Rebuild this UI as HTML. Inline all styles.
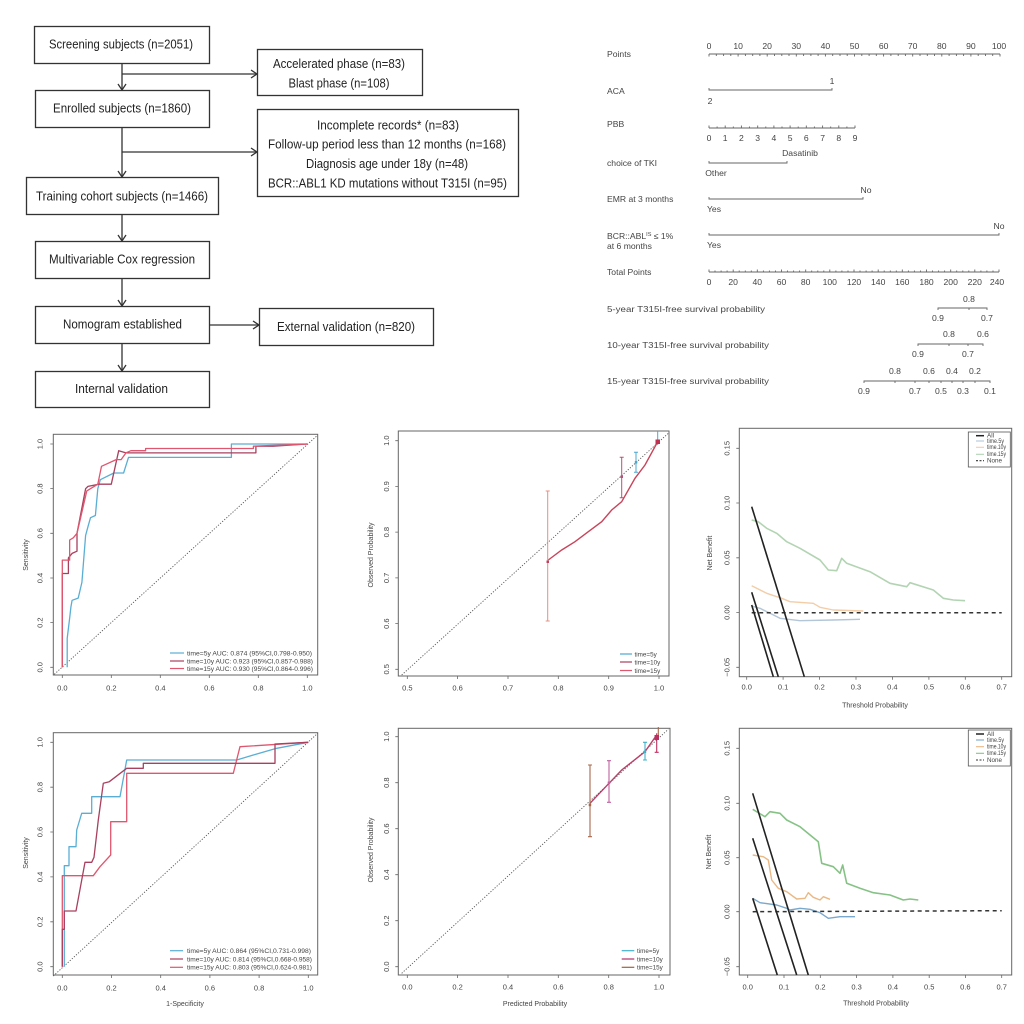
<!DOCTYPE html>
<html><head><meta charset="utf-8"><style>
html,body{margin:0;padding:0;background:#fff;}
svg{display:block;}
text{font-family:"Liberation Sans",Arial,sans-serif;}
.fc{font-size:12.5px;fill:#222;}
.nm{font-size:8.6px;fill:#444;}
.tk{font-size:7.5px;fill:#444;}
.lg{font-size:6.3px;fill:#444;}
.ax{font-size:7px;fill:#444;}
</style></head><body>
<svg width="1024" height="1024" viewBox="0 0 1024 1024" xmlns="http://www.w3.org/2000/svg">
<rect width="1024" height="1024" fill="#fff"/>

<!-- ================= FLOWCHART ================= -->
<g stroke="#333" stroke-width="1.3" fill="none">
<rect x="34.5" y="26.5" width="175" height="37"/>
<rect x="257.5" y="49.5" width="165" height="46"/>
<rect x="35.5" y="90.5" width="174" height="37"/>
<rect x="257.5" y="109.5" width="261" height="87"/>
<rect x="26.5" y="177.5" width="192" height="37"/>
<rect x="35.5" y="241.5" width="174" height="37"/>
<rect x="35.5" y="306.5" width="174" height="37"/>
<rect x="259.5" y="308.5" width="174" height="37"/>
<rect x="35.5" y="371.5" width="174" height="36"/>
<line x1="122" y1="64" x2="122" y2="90"/>
<line x1="122" y1="74" x2="257" y2="74"/>
<line x1="122" y1="128" x2="122" y2="177"/>
<line x1="122" y1="152" x2="257" y2="152"/>
<line x1="122" y1="215" x2="122" y2="241"/>
<line x1="122" y1="279" x2="122" y2="306"/>
<line x1="209" y1="325" x2="259" y2="325"/>
<line x1="122" y1="344" x2="122" y2="371"/>
<polyline points="118,84 122,90 126,84"/>
<polyline points="251,70 257,74 251,78"/>
<polyline points="118,171 122,177 126,171"/>
<polyline points="251,148 257,152 251,156"/>
<polyline points="118,235 122,241 126,235"/>
<polyline points="118,300 122,306 126,300"/>
<polyline points="253,321 259,325 253,329"/>
<polyline points="118,365 122,371 126,365"/>
</g>
<g class="fc" text-anchor="middle">
<text x="121" y="48.5" textLength="144" lengthAdjust="spacingAndGlyphs">Screening subjects (n=2051)</text>
<text x="339" y="68" textLength="132" lengthAdjust="spacingAndGlyphs">Accelerated phase (n=83)</text>
<text x="339" y="87.5" textLength="101" lengthAdjust="spacingAndGlyphs">Blast phase (n=108)</text>
<text x="122" y="112.5" textLength="138" lengthAdjust="spacingAndGlyphs">Enrolled subjects (n=1860)</text>
<text x="388" y="129.5" textLength="142" lengthAdjust="spacingAndGlyphs">Incomplete records* (n=83)</text>
<text x="387" y="148.5" textLength="238" lengthAdjust="spacingAndGlyphs">Follow-up period less than 12 months (n=168)</text>
<text x="387" y="168" textLength="162" lengthAdjust="spacingAndGlyphs">Diagnosis age under 18y (n=48)</text>
<text x="387.5" y="187.5" textLength="239" lengthAdjust="spacingAndGlyphs">BCR::ABL1 KD mutations without T315I (n=95)</text>
<text x="122" y="200.5" textLength="172" lengthAdjust="spacingAndGlyphs">Training cohort subjects (n=1466)</text>
<text x="122" y="263.5" textLength="146" lengthAdjust="spacingAndGlyphs">Multivariable Cox regression</text>
<text x="122.5" y="328.5" textLength="119" lengthAdjust="spacingAndGlyphs">Nomogram established</text>
<text x="346" y="331" textLength="138" lengthAdjust="spacingAndGlyphs">External validation (n=820)</text>
<text x="121.5" y="393" textLength="93" lengthAdjust="spacingAndGlyphs">Internal validation</text>
</g>

<!-- ================= NOMOGRAM ================= -->
<g class="nm">
<text x="607" y="57">Points</text>
<text x="607" y="94">ACA</text>
<text x="607" y="127">PBB</text>
<text x="607" y="166">choice of TKI</text>
<text x="607" y="202">EMR at 3 months</text>
<text x="607" y="239">BCR::ABL<tspan font-size="5.5" dy="-3">IS</tspan><tspan dy="3"> ≤ 1%</tspan></text>
<text x="607" y="249">at 6 months</text>
<text x="607" y="275">Total Points</text>
<text x="607" y="312" textLength="158" lengthAdjust="spacingAndGlyphs">5-year T315I-free survival probability</text>
<text x="607" y="348" textLength="162" lengthAdjust="spacingAndGlyphs">10-year T315I-free survival probability</text>
<text x="607" y="384" textLength="162" lengthAdjust="spacingAndGlyphs">15-year T315I-free survival probability</text>
</g>
<g stroke="#666" stroke-width="0.9" fill="none">
<line x1="709" y1="54" x2="1000" y2="54"/>
<path d="M709,54v2.5 M716.3,54v2 M723.6,54v2 M730.8,54v2 M738.1,54v2.5 M745.4,54v2 M752.7,54v2 M759.9,54v2 M767.2,54v2.5 M774.5,54v2 M781.8,54v2 M789,54v2 M796.3,54v2.5 M803.6,54v2 M810.9,54v2 M818.1,54v2 M825.4,54v2.5 M832.7,54v2 M840,54v2 M847.2,54v2 M854.5,54v2.5 M861.8,54v2 M869.1,54v2 M876.3,54v2 M883.6,54v2.5 M890.9,54v2 M898.2,54v2 M905.4,54v2 M912.7,54v2.5 M920,54v2 M927.3,54v2 M934.5,54v2 M941.8,54v2.5 M949.1,54v2 M956.4,54v2 M963.6,54v2 M970.9,54v2.5 M978.2,54v2 M985.5,54v2 M992.7,54v2 M1000,54v2.5"/>
<path d="M709,88v2h123v-2"/>
<line x1="709" y1="128" x2="855" y2="128"/>
<path d="M709,128v-2.5 M725.2,128v-2.5 M741.4,128v-2.5 M757.7,128v-2.5 M773.9,128v-2.5 M790.1,128v-2.5 M806.3,128v-2.5 M822.6,128v-2.5 M838.8,128v-2.5 M855,128v-2.5 M717.1,128v-1.5 M733.3,128v-1.5 M749.5,128v-1.5 M765.8,128v-1.5 M782,128v-1.5 M798.2,128v-1.5 M814.4,128v-1.5 M830.7,128v-1.5 M846.9,128v-1.5"/>
<path d="M709,161v2h78v-2"/>
<path d="M709,197v2h154v-2"/>
<path d="M709,233v2h290v-2"/>
<line x1="709" y1="272" x2="999" y2="272"/>
<path d="M709,272v-2.5 M715,272v-1.5 M721.1,272v-1.5 M727.1,272v-1.5 M733.2,272v-2.5 M739.2,272v-1.5 M745.3,272v-1.5 M751.3,272v-1.5 M757.3,272v-2.5 M763.4,272v-1.5 M769.4,272v-1.5 M775.5,272v-1.5 M781.5,272v-2.5 M787.5,272v-1.5 M793.6,272v-1.5 M799.6,272v-1.5 M805.7,272v-2.5 M811.7,272v-1.5 M817.8,272v-1.5 M823.8,272v-1.5 M829.8,272v-2.5 M835.9,272v-1.5 M841.9,272v-1.5 M848,272v-1.5 M854,272v-2.5 M860,272v-1.5 M866.1,272v-1.5 M872.1,272v-1.5 M878.2,272v-2.5 M884.2,272v-1.5 M890.3,272v-1.5 M896.3,272v-1.5 M902.3,272v-2.5 M908.4,272v-1.5 M914.4,272v-1.5 M920.5,272v-1.5 M926.5,272v-2.5 M932.5,272v-1.5 M938.6,272v-1.5 M944.6,272v-1.5 M950.7,272v-2.5 M956.7,272v-1.5 M962.8,272v-1.5 M968.8,272v-1.5 M974.8,272v-2.5 M980.9,272v-1.5 M986.9,272v-1.5 M993,272v-1.5 M999,272v-2.5"/>
<path d="M938,310v-2h49v2 M969,308v2"/>
<path d="M918,346v-2h65v2 M949,344v2 M968,344v2"/>
<path d="M864,383v-2h126v2 M895,381v2 M915,381v2 M929,381v2 M941,381v2 M952,381v2 M963,381v2 M975,381v2"/>
</g>
<g class="nm" text-anchor="middle" font-size="8.2">
<text x="709" y="49">0</text><text x="738.1" y="49">10</text><text x="767.2" y="49">20</text><text x="796.3" y="49">30</text><text x="825.4" y="49">40</text><text x="854.5" y="49">50</text><text x="883.6" y="49">60</text><text x="912.7" y="49">70</text><text x="941.8" y="49">80</text><text x="970.9" y="49">90</text><text x="999" y="49">100</text>
<text x="832" y="84">1</text><text x="710" y="104">2</text>
<text x="709" y="141">0</text><text x="725.2" y="141">1</text><text x="741.4" y="141">2</text><text x="757.7" y="141">3</text><text x="773.9" y="141">4</text><text x="790.1" y="141">5</text><text x="806.3" y="141">6</text><text x="822.6" y="141">7</text><text x="838.8" y="141">8</text><text x="855" y="141">9</text>
<text x="800" y="156">Dasatinib</text><text x="716" y="176">Other</text>
<text x="866" y="193">No</text><text x="714" y="212">Yes</text>
<text x="999" y="229">No</text><text x="714" y="248">Yes</text>
<text x="709" y="285">0</text><text x="733.2" y="285">20</text><text x="757.3" y="285">40</text><text x="781.5" y="285">60</text><text x="805.7" y="285">80</text><text x="829.8" y="285">100</text><text x="854" y="285">120</text><text x="878.2" y="285">140</text><text x="902.3" y="285">160</text><text x="926.5" y="285">180</text><text x="950.7" y="285">200</text><text x="974.8" y="285">220</text><text x="997" y="285">240</text>
<text x="969" y="302">0.8</text><text x="938" y="321">0.9</text><text x="987" y="321">0.7</text>
<text x="949" y="337">0.8</text><text x="983" y="337">0.6</text><text x="918" y="357">0.9</text><text x="968" y="357">0.7</text>
<text x="895" y="374">0.8</text><text x="929" y="374">0.6</text><text x="952" y="374">0.4</text><text x="975" y="374">0.2</text>
<text x="864" y="394">0.9</text><text x="915" y="394">0.7</text><text x="941" y="394">0.5</text><text x="963" y="394">0.3</text><text x="990" y="394">0.1</text>
</g>

<!-- ================= ROC 1 ================= -->
<g>
<rect x="53.3" y="434.3" width="264.4" height="240.7" fill="none" stroke="#666" stroke-width="1"/>
<path d="M62.3,675v3 M111.3,675v3 M160.3,675v3 M209.3,675v3 M258.3,675v3 M307.3,675v3 M53.3,667.3h-3 M53.3,622.6h-3 M53.3,578h-3 M53.3,533.3h-3 M53.3,488.6h-3 M53.3,444h-3" stroke="#666" stroke-width="0.8"/>
<g class="tk" text-anchor="middle">
<text x="62.3" y="690.5">0.0</text><text x="111.3" y="690.5">0.2</text><text x="160.3" y="690.5">0.4</text><text x="209.3" y="690.5">0.6</text><text x="258.3" y="690.5">0.8</text><text x="307.3" y="690.5">1.0</text>
<text transform="translate(42.5,667.3) rotate(-90)">0.0</text><text transform="translate(42.5,622.6) rotate(-90)">0.2</text><text transform="translate(42.5,578) rotate(-90)">0.4</text><text transform="translate(42.5,533.3) rotate(-90)">0.6</text><text transform="translate(42.5,488.6) rotate(-90)">0.8</text><text transform="translate(42.5,444) rotate(-90)">1.0</text>
<text class="ax" transform="translate(28,555) rotate(-90)">Sensitivity</text>
</g>
<line x1="54.3" y1="674.3" x2="316.7" y2="436" stroke="#555" stroke-width="0.9" stroke-dasharray="1.2,1.6"/>
<g fill="none" stroke-width="1.3" stroke-linejoin="round">
<polyline stroke="#5aaed4" points="67.2,667.3 67.2,638.3 69.65,618.2 70.9,607 72.1,600.3 78.2,598.1 81.9,582.4 85.6,535.5 88,526.6 90.5,517.7 95.4,515.5 97.8,488.7 100.3,479.7 113.8,473 123.6,473 128.5,457.4 231.4,457.4 231.4,444 307.3,444"/>
<polyline stroke="#a8405e" points="62.3,667.3 62.3,573.5 68.4,573.5 68.4,557.9 72.1,553.4 77,551.2 77,533.3 85.6,488.7 88,486.4 99.1,484.2 111.3,484.2 118.7,450.7 126,452.9 255.9,452.9 255.9,446.2 273,446.2 307.3,444"/>
<polyline stroke="#e0566e" points="62.3,667.3 62.3,560.1 69.65,560.1 69.65,540 73.3,537.8 77,533.3 86.8,490.9 97.8,484.2 101.5,466.3 116.2,459.6 121.1,459.6 126,452.9 130.9,450.7 145.6,450.7 145.6,448.5 253.4,448.5 253.4,446.2 307.3,444"/>
</g>
<line x1="170" y1="653" x2="184" y2="653" stroke="#5aaed4" stroke-width="1.2"/>
<line x1="170" y1="661" x2="184" y2="661" stroke="#a8405e" stroke-width="1.2"/>
<line x1="170" y1="668.5" x2="184" y2="668.5" stroke="#e0566e" stroke-width="1.2"/>
<g class="lg">
<text x="187" y="655.3" textLength="125" lengthAdjust="spacingAndGlyphs">time=5y AUC: 0.874 (95%CI,0.798-0.950)</text>
<text x="187" y="663.3" textLength="126" lengthAdjust="spacingAndGlyphs">time=10y AUC: 0.923 (95%CI,0.857-0.988)</text>
<text x="187" y="670.8" textLength="126" lengthAdjust="spacingAndGlyphs">time=15y AUC: 0.930 (95%CI,0.864-0.996)</text>
</g>
</g>

<!-- ================= CAL 1 ================= -->
<g>
<rect x="398.3" y="431" width="270.7" height="245" fill="none" stroke="#666" stroke-width="1"/>
<path d="M407.3,676v3 M457.6,676v3 M508,676v3 M558.3,676v3 M608.7,676v3 M659,676v3 M398.3,669.3h-3 M398.3,623.6h-3 M398.3,577.9h-3 M398.3,532.1h-3 M398.3,486.4h-3 M398.3,440.7h-3" stroke="#666" stroke-width="0.8"/>
<g class="tk" text-anchor="middle">
<text x="407.3" y="690.5">0.5</text><text x="457.6" y="690.5">0.6</text><text x="508" y="690.5">0.7</text><text x="558.3" y="690.5">0.8</text><text x="608.7" y="690.5">0.9</text><text x="659" y="690.5">1.0</text>
<text transform="translate(389,669.3) rotate(-90)">0.5</text><text transform="translate(389,623.6) rotate(-90)">0.6</text><text transform="translate(389,577.9) rotate(-90)">0.7</text><text transform="translate(389,532.1) rotate(-90)">0.8</text><text transform="translate(389,486.4) rotate(-90)">0.9</text><text transform="translate(389,440.7) rotate(-90)">1.0</text>
<text class="ax" transform="translate(373,555) rotate(-90)">Observed Probability</text>
</g>
<line x1="401.7" y1="675" x2="668.3" y2="433.3" stroke="#555" stroke-width="0.9" stroke-dasharray="1.2,1.6"/>
<polyline fill="none" stroke="#c8445a" stroke-width="1.4" points="548.3,560 561.7,550 575,541.7 588.3,531.7 601.7,521.7 611.7,510 621.7,501.7 635,478.3 645,465 657.7,441.7"/>
<g fill="none" stroke-width="1">
<path d="M547.7,491v130 M545.7,491h4 M545.7,621h4" stroke="#e89080"/>
<path d="M621.7,457.3v40.4 M619.7,457.3h4 M619.7,497.7h4" stroke="#b8507a"/>
<path d="M636,452.3v20 M634,452.3h4 M634,472.3h4" stroke="#4aa8d0"/>
<path d="M657.7,431v14" stroke="#4aa8d0"/>
</g>
<rect x="546.5" y="560.5" width="2.5" height="2.5" fill="#c04060"/>
<rect x="620.5" y="475.5" width="2.5" height="2.5" fill="#b8507a"/>
<rect x="634.8" y="461" width="2.5" height="2.5" fill="#4aa8d0"/>
<rect x="655.5" y="439.5" width="4.5" height="4.5" fill="#c03050"/>
<line x1="620" y1="654" x2="632" y2="654" stroke="#4aa8d0" stroke-width="1.2"/>
<line x1="620" y1="662" x2="632" y2="662" stroke="#a8405e" stroke-width="1.2"/>
<line x1="620" y1="670.5" x2="632" y2="670.5" stroke="#e0566e" stroke-width="1.2"/>
<g class="lg"><text x="634.5" y="656.3">time=5y</text><text x="634.5" y="664.3">time=10y</text><text x="634.5" y="672.8">time=15y</text></g>
</g>

<!-- ================= DCA 1 ================= -->
<g>
<rect x="739.3" y="428.3" width="272.4" height="248.4" fill="none" stroke="#666" stroke-width="1"/>
<path d="M746.7,676.7v3 M783.1,676.7v3 M819.6,676.7v3 M856,676.7v3 M892.4,676.7v3 M928.9,676.7v3 M965.3,676.7v3 M1001.7,676.7v3 M739.3,667.3h-3 M739.3,612.6h-3 M739.3,557.8h-3 M739.3,503h-3 M739.3,448.3h-3" stroke="#666" stroke-width="0.8"/>
<g class="tk" text-anchor="middle">
<text x="746.7" y="689.5">0.0</text><text x="783.1" y="689.5">0.1</text><text x="819.6" y="689.5">0.2</text><text x="856" y="689.5">0.3</text><text x="892.4" y="689.5">0.4</text><text x="928.9" y="689.5">0.5</text><text x="965.3" y="689.5">0.6</text><text x="1001.7" y="689.5">0.7</text>
<text transform="translate(729.5,667.3) rotate(-90)">−0.05</text><text transform="translate(729.5,612.6) rotate(-90)">0.00</text><text transform="translate(729.5,557.8) rotate(-90)">0.05</text><text transform="translate(729.5,503) rotate(-90)">0.10</text><text transform="translate(729.5,448.3) rotate(-90)">0.15</text>
<text class="ax" transform="translate(712,553) rotate(-90)">Net Benefit</text>
<text class="ax" x="875" y="707.5">Threshold Probability</text>
</g>
<g fill="none" stroke-linejoin="round">
<polyline stroke="#b2d4b2" stroke-width="1.6" points="751.7,520 758.3,521.7 766.7,528.3 776.7,533.3 786.7,541.7 800,548.3 820,560 828.3,570 836.7,570.7 841.7,558.3 846.7,563.3 870,571.7 890,583.3 906.7,586.7 910,582.7 933.3,590 943.3,598.3 953.3,600 965,600.7"/>
<polyline stroke="#f2cda8" stroke-width="1.4" points="751.7,585.7 766.7,593.3 781.7,598.3 790,601.7 813.3,603.3 820,607.3 833.3,610 863.3,611"/>
<polyline stroke="#b2c6d8" stroke-width="1.4" points="751.7,606 760,608.3 770,613.3 780,618.3 800,620.7 833.3,620 860,619.3"/>
<line x1="751.7" y1="612.7" x2="1001.7" y2="612.7" stroke="#333" stroke-width="1.5" stroke-dasharray="4,3.5"/>
<g stroke="#222" stroke-width="1.6">
<line x1="751.7" y1="506.7" x2="804.3" y2="676.7"/>
<line x1="751.7" y1="592.3" x2="778.3" y2="676.7"/>
<line x1="751.7" y1="605" x2="773.3" y2="676.7"/>
</g>
</g>
<rect x="968.3" y="432" width="42" height="35" fill="#fff" stroke="#555" stroke-width="0.8"/>
<g stroke-width="1.1">
<line x1="976" y1="435.7" x2="984" y2="435.7" stroke="#222" stroke-width="1.5"/>
<line x1="976" y1="441" x2="984" y2="441" stroke="#b2c6d8"/>
<line x1="976" y1="447.3" x2="984" y2="447.3" stroke="#f2cda8"/>
<line x1="976" y1="454.3" x2="984" y2="454.3" stroke="#b2d4b2"/>
<line x1="976" y1="460.7" x2="984" y2="460.7" stroke="#333" stroke-dasharray="2,1.5"/>
</g>
<g class="lg" font-size="4.8"><text x="987" y="437.5">All</text><text x="987" y="443" textLength="17" lengthAdjust="spacingAndGlyphs">time.5y</text><text x="987" y="449.2" textLength="19" lengthAdjust="spacingAndGlyphs">time.10y</text><text x="987" y="456" textLength="19" lengthAdjust="spacingAndGlyphs">time.15y</text><text x="987" y="462.5">None</text></g>
</g>

<!-- ================= ROC 2 ================= -->
<g>
<rect x="53.3" y="732.7" width="264.4" height="242.3" fill="none" stroke="#666" stroke-width="1"/>
<path d="M62.3,975v3 M111.5,975v3 M160.7,975v3 M209.9,975v3 M259.1,975v3 M308.3,975v3 M53.3,966.7h-3 M53.3,921.8h-3 M53.3,876.9h-3 M53.3,832h-3 M53.3,787.2h-3 M53.3,742.3h-3" stroke="#666" stroke-width="0.8"/>
<g class="tk" text-anchor="middle">
<text x="62.3" y="990.5">0.0</text><text x="111.5" y="990.5">0.2</text><text x="160.7" y="990.5">0.4</text><text x="209.9" y="990.5">0.6</text><text x="259.1" y="990.5">0.8</text><text x="308.3" y="990.5">1.0</text>
<text transform="translate(42.5,966.7) rotate(-90)">0.0</text><text transform="translate(42.5,921.8) rotate(-90)">0.2</text><text transform="translate(42.5,876.9) rotate(-90)">0.4</text><text transform="translate(42.5,832) rotate(-90)">0.6</text><text transform="translate(42.5,787.2) rotate(-90)">0.8</text><text transform="translate(42.5,742.3) rotate(-90)">1.0</text>
<text class="ax" transform="translate(28,853) rotate(-90)">Sensitivity</text>
<text class="ax" x="185" y="1006">1-Specificity</text>
</g>
<line x1="53.3" y1="976" x2="317.7" y2="733.3" stroke="#555" stroke-width="0.9" stroke-dasharray="1.2,1.6"/>
<g fill="none" stroke-width="1.3" stroke-linejoin="round">
<polyline stroke="#5aaed4" points="64.3,966.7 64.3,865.7 69,865.7 69,846.7 76,846.7 76.7,830 81.7,813.3 91.7,813.3 91.7,796.7 100,796.7 120,796.7 126.7,760 236.7,760 253.3,755 276.7,748.3 308.3,742.3"/>
<polyline stroke="#e0566e" points="62.3,966.7 62.3,875.7 93.3,875.7 100,866.7 110.7,855 110.7,821.7 126.7,821.7 126.7,773.3 233.3,773.3 240,746.7 308.3,742.3"/>
<polyline stroke="#a8405e" points="62.3,966.7 62.3,929.3 64.3,929.3 64.3,911 76,911 85,862.3 91.7,862.3 94,857.3 98.3,820 103.3,783.3 109.3,781.7 126.7,768.3 143.3,768.3 143.3,763.3 275,763.3 275,744 308.3,742.3"/>
</g>
<line x1="170" y1="950.7" x2="183" y2="950.7" stroke="#5aaed4" stroke-width="1.2"/>
<line x1="170" y1="959" x2="183" y2="959" stroke="#a8405e" stroke-width="1.2"/>
<line x1="170" y1="967.3" x2="183" y2="967.3" stroke="#e0566e" stroke-width="1.2"/>
<g class="lg">
<text x="187" y="953" textLength="124" lengthAdjust="spacingAndGlyphs">time=5y AUC: 0.864 (95%CI,0.731-0.998)</text>
<text x="187" y="961.3" textLength="125" lengthAdjust="spacingAndGlyphs">time=10y AUC: 0.814 (95%CI,0.668-0.958)</text>
<text x="187" y="969.6" textLength="125" lengthAdjust="spacingAndGlyphs">time=15y AUC: 0.803 (95%CI,0.624-0.981)</text>
</g>
</g>

<!-- ================= CAL 2 ================= -->
<g>
<rect x="398.3" y="728.3" width="271.7" height="246.7" fill="none" stroke="#666" stroke-width="1"/>
<path d="M407.3,975v3 M457.6,975v3 M508,975v3 M558.3,975v3 M608.7,975v3 M659,975v3 M398.3,966.7h-3 M398.3,920.7h-3 M398.3,874.7h-3 M398.3,828.7h-3 M398.3,782.7h-3 M398.3,736.7h-3" stroke="#666" stroke-width="0.8"/>
<g class="tk" text-anchor="middle">
<text x="407.3" y="989.5">0.0</text><text x="457.6" y="989.5">0.2</text><text x="508" y="989.5">0.4</text><text x="558.3" y="989.5">0.6</text><text x="608.7" y="989.5">0.8</text><text x="659" y="989.5">1.0</text>
<text transform="translate(389,966.7) rotate(-90)">0.0</text><text transform="translate(389,920.7) rotate(-90)">0.2</text><text transform="translate(389,874.7) rotate(-90)">0.4</text><text transform="translate(389,828.7) rotate(-90)">0.6</text><text transform="translate(389,782.7) rotate(-90)">0.8</text><text transform="translate(389,736.7) rotate(-90)">1.0</text>
<text class="ax" transform="translate(373,850) rotate(-90)">Observed Probability</text>
<text class="ax" x="535" y="1006">Predicted Probability</text>
</g>
<line x1="401.7" y1="973.3" x2="668.3" y2="729.3" stroke="#555" stroke-width="0.9" stroke-dasharray="1.2,1.6"/>
<polyline fill="none" stroke="#b8406a" stroke-width="1.4" points="590,803.3 609,783.3 621.7,770 645,751.7 656.7,735"/>
<g fill="none" stroke-width="1.1">
<path d="M590,765v71.7 M588,765h4 M588,836.7h4" stroke="#a8684a"/>
<path d="M609,760.7v41.6 M607,760.7h4 M607,802.3h4" stroke="#c060a0"/>
<path d="M645,742.3v17.7 M643,742.3h4 M643,760h4" stroke="#40b0c8"/>
<path d="M656.7,733.3v19 M654.7,752.3h4" stroke="#c03060"/>
<path d="M658.3,727v13" stroke="#a8684a"/>
</g>
<rect x="588.7" y="803.7" width="2.5" height="2.5" fill="#a8684a"/>
<rect x="607.7" y="781.5" width="2.5" height="2.5" fill="#c060a0"/>
<rect x="643.7" y="750.5" width="2.5" height="2.5" fill="#40b0c8"/>
<rect x="654.5" y="735" width="4.5" height="5" fill="#b83060"/>
<line x1="621.7" y1="950.7" x2="634.3" y2="950.7" stroke="#40b0c8" stroke-width="1.2"/>
<line x1="621.7" y1="959" x2="634.3" y2="959" stroke="#b0306a" stroke-width="1.2"/>
<line x1="621.7" y1="967.3" x2="634.3" y2="967.3" stroke="#a06040" stroke-width="1.2"/>
<g class="lg"><text x="637" y="953">time=5y</text><text x="637" y="961.3">time=10y</text><text x="637" y="969.6">time=15y</text></g>
</g>

<!-- ================= DCA 2 ================= -->
<g>
<rect x="739.3" y="728.3" width="272.4" height="246.7" fill="none" stroke="#666" stroke-width="1"/>
<path d="M747.7,975v3 M784,975v3 M820.3,975v3 M856.6,975v3 M892.9,975v3 M929.2,975v3 M965.4,975v3 M1001.7,975v3 M739.3,966.7h-3 M739.3,911.7h-3 M739.3,857.7h-3 M739.3,803.3h-3 M739.3,748.3h-3" stroke="#666" stroke-width="0.8"/>
<g class="tk" text-anchor="middle">
<text x="747.7" y="989.5">0.0</text><text x="784" y="989.5">0.1</text><text x="820.3" y="989.5">0.2</text><text x="856.6" y="989.5">0.3</text><text x="892.9" y="989.5">0.4</text><text x="929.2" y="989.5">0.5</text><text x="965.4" y="989.5">0.6</text><text x="1001.7" y="989.5">0.7</text>
<text transform="translate(729.5,966.7) rotate(-90)">−0.05</text><text transform="translate(729.5,911.7) rotate(-90)">0.00</text><text transform="translate(729.5,857.7) rotate(-90)">0.05</text><text transform="translate(729.5,803.3) rotate(-90)">0.10</text><text transform="translate(729.5,748.3) rotate(-90)">0.15</text>
<text class="ax" transform="translate(711,852) rotate(-90)">Net Benefit</text>
<text class="ax" x="876" y="1005.5">Threshold Probability</text>
</g>
<g fill="none" stroke-linejoin="round">
<polyline stroke="#86c286" stroke-width="1.6" points="752.7,809.3 765,816.7 770,811.7 780,813.3 786.7,820 800,826.7 818.3,841.7 821.7,863.3 833.3,866.7 840,873.3 842.7,865 846.7,883.3 860,888.3 873.3,892.7 890,895 903.3,900 910,899 918.3,900"/>
<polyline stroke="#eab884" stroke-width="1.4" points="752.7,855 763.3,856.7 768.3,860 771.7,880 778.3,888.3 786.7,891.7 796.7,899 805,898.3 808.3,892.7 813.3,897.3 820,900 823.3,896.7 830,899.3"/>
<polyline stroke="#7aa8cc" stroke-width="1.4" points="752.7,898.3 760,902.7 776.7,905 786.7,908.3 790,910 800,908.3 810,909.3 820,912.7 828.3,918.3 840,916.7 855,916.7"/>
<line x1="752.7" y1="911.7" x2="1001.7" y2="910.7" stroke="#333" stroke-width="1.5" stroke-dasharray="4,3.5"/>
<g stroke="#222" stroke-width="1.6">
<line x1="752.7" y1="793.3" x2="808.3" y2="975"/>
<line x1="752.7" y1="838.3" x2="796.7" y2="975"/>
<line x1="752.7" y1="898.3" x2="777.3" y2="975"/>
</g>
</g>
<rect x="968.3" y="730" width="42" height="36" fill="#fff" stroke="#555" stroke-width="0.8"/>
<g stroke-width="1.1">
<line x1="976" y1="734" x2="984" y2="734" stroke="#222" stroke-width="1.5"/>
<line x1="976" y1="740" x2="984" y2="740" stroke="#7aa8cc"/>
<line x1="976" y1="746.7" x2="984" y2="746.7" stroke="#eab884"/>
<line x1="976" y1="753.3" x2="984" y2="753.3" stroke="#86c286"/>
<line x1="976" y1="760" x2="984" y2="760" stroke="#333" stroke-dasharray="2,1.5"/>
</g>
<g class="lg" font-size="4.8"><text x="987" y="735.8">All</text><text x="987" y="741.8" textLength="17" lengthAdjust="spacingAndGlyphs">time.5y</text><text x="987" y="748.5" textLength="19" lengthAdjust="spacingAndGlyphs">time.10y</text><text x="987" y="755.1" textLength="19" lengthAdjust="spacingAndGlyphs">time.15y</text><text x="987" y="761.8">None</text></g>
</g>
</svg>
</body></html>
